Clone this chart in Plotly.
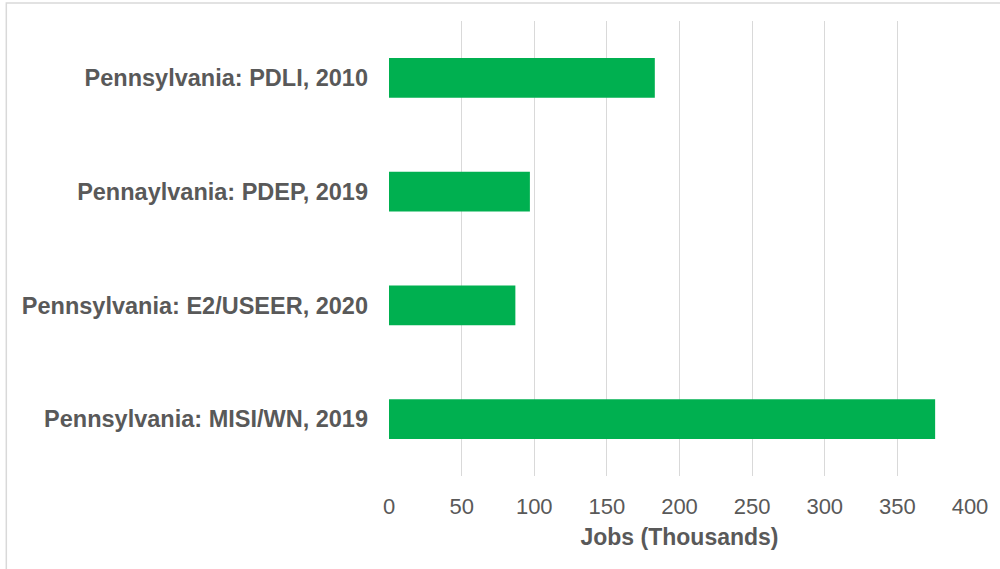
import plotly.graph_objects as go

categories = [
    "Pennsylvania: MISI/WN, 2019",
    "Pennsylvania: E2/USEER, 2020",
    "Pennaylvania: PDEP, 2019",
    "Pennsylvania: PDLI, 2010",
]
jobs_thousands = [376, 87, 97, 183]
x_ticks = [0, 50, 100, 150, 200, 250, 300, 350, 400]

fig = go.Figure(
    go.Bar(
        y=categories,
        x=jobs_thousands,
        orientation="h",
        marker=dict(color="#00b050", line=dict(width=0)),
        width=0.35,
    )
)

fig.update_layout(
    width=1000,
    height=569,
    margin=dict(l=389, r=28, t=21, b=93),
    paper_bgcolor="white",
    plot_bgcolor="white",
    showlegend=False,
    font=dict(family="Liberation Sans, Arial, sans-serif", color="#595959"),
    shapes=[
        dict(type="rect", xref="paper", yref="paper", x0=-384 / 583, x1=1.2,
             y0=-2.0, y1=1 + 18 / 455, line=dict(color="#d9d9d9", width=1.5),
             fillcolor="rgba(0,0,0,0)", layer="below"),
    ],
)

fig.update_xaxes(
    range=[0, 400],
    tickvals=x_ticks,
    ticktext=[str(v) for v in x_ticks],
    showgrid=True,
    gridcolor="#d9d9d9",
    gridwidth=1,
    zeroline=False,
    showline=False,
    ticks="",
    tickfont=dict(size=22, color="#595959"),
    ticklabelstandoff=15,
    title=dict(text="<b>Jobs (Thousands)</b>", font=dict(size=23, color="#595959"), standoff=10),
    fixedrange=True,
)

fig.update_yaxes(
    categoryorder="array",
    categoryarray=categories,
    showgrid=False,
    zeroline=False,
    showline=False,
    ticks="",
    tickfont=dict(size=23.5, color="#595959", weight="bold"),
    ticklabelstandoff=20,
    fixedrange=True,
)

fig.write_html(
    "out.html",
    config={"displayModeBar": False},
    post_script="document.body.style.margin='0';",
)
